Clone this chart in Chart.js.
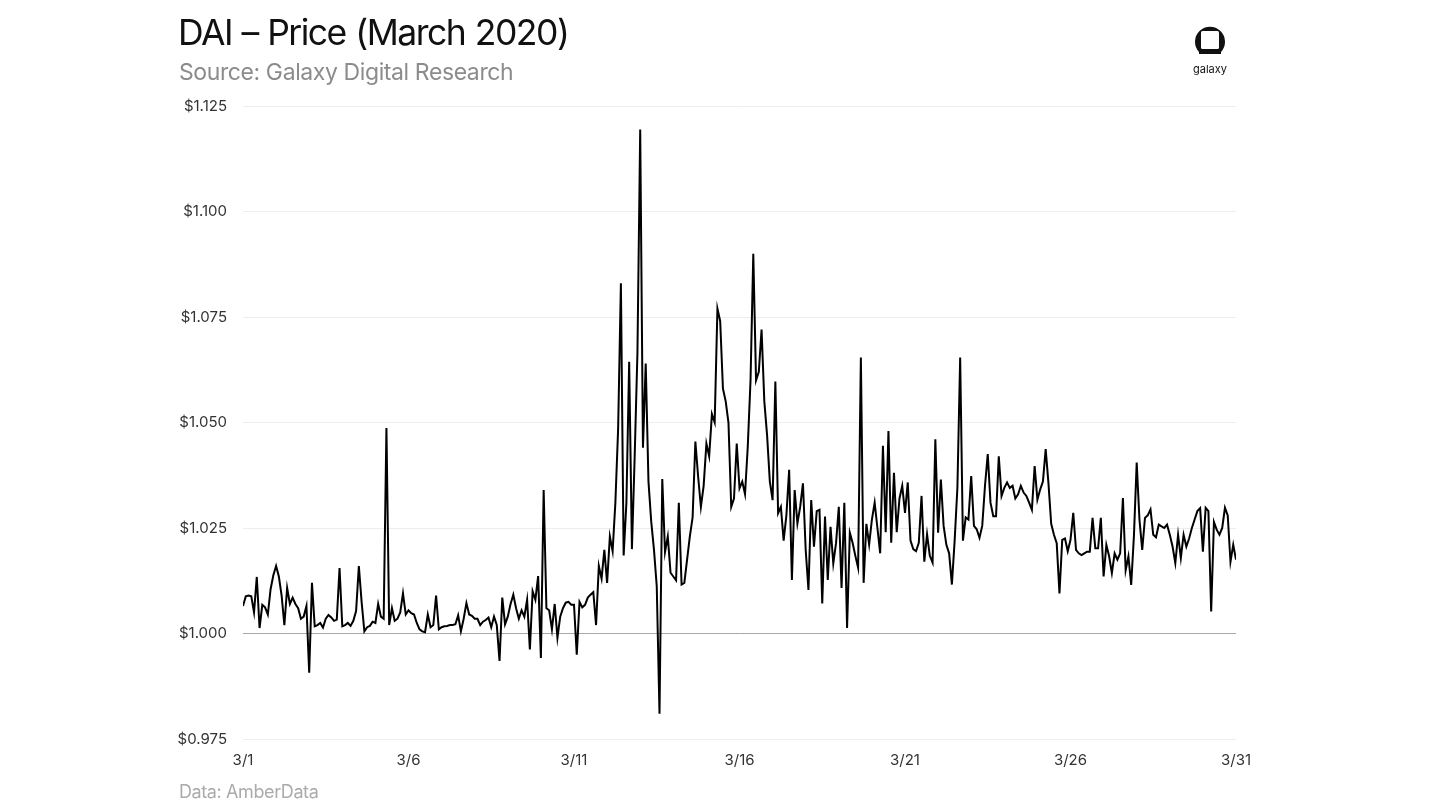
<!DOCTYPE html>
<html lang="en">
<head>
  <meta charset="UTF-8" />
  <title>DAI - Price (March 2020)</title>
  <script src="https://cdn.jsdelivr.net/npm/chart.js"></script>
  <style>
    html, body {
      margin: 0;
      padding: 0;
      background: #ffffff;
      font-family: Inter, "Noto Sans", sans-serif;
    }
    #page {
      position: relative;
      width: 1435px;
      height: 807px;
      overflow: hidden;
    }
    #wrap {
      position: absolute;
      left: 0;
      top: 0;
      width: 1435px;
      height: 807px;
    }
    .title {
      position: absolute;
      left: 178px;
      top: 11px;
      font-size: 35.5px;
      letter-spacing: -1.5px;
      word-spacing: 1px;
      color: #111;
      white-space: nowrap;
    }
    .subtitle {
      position: absolute;
      left: 179px;
      top: 58px;
      font-size: 23px;
      letter-spacing: -0.4px;
      color: #8c8c8c;
      white-space: nowrap;
    }
    .footer {
      position: absolute;
      left: 179px;
      top: 781px;
      font-size: 18px;
      letter-spacing: -0.4px;
      color: #ababab;
      white-space: nowrap;
    }
    .logo {
      position: absolute;
      left: 1185px;
      top: 26px;
      width: 50px;
      text-align: center;
    }
    .logo span {
      display: block;
      font-size: 11px;
      color: #111;
      margin-top: 1px;
    }
  </style>
</head>
<body>
<div id="page">
  <div id="wrap"><canvas id="daiPrice"></canvas></div>
  <div class="title">DAI – Price (March 2020)</div>
  <div class="subtitle">Source: Galaxy Digital Research</div>
  <div class="footer">Data: AmberData</div>
  <div class="logo">
    <svg width="30" height="31" viewBox="0 0 30 31">
      <path d="M4 28 L4 26 A15 15 0 1 1 26 26 L26 28 Z" fill="#111"/>
      <rect x="6" y="5" width="18" height="18" rx="1.5" fill="#fff"/>
    </svg>
    <span>galaxy</span>
  </div>
</div>

<script>
  // DAI price, one value every 2 hours starting 3/1 00:00 (12 per day)
  const sampleHours = 2;

  const pricesWeek1 = [
    1.0065, 1.0088, 1.009, 1.0088, 1.005, 1.0134, 1.0013, 1.0068, 1.0062, 1.0045, 1.0105, 1.0138, // 3/1
    1.016, 1.0135, 1.009, 1.002, 1.0108, 1.007, 1.0085, 1.007, 1.006, 1.0035, 1.004, 1.0065,     // 3/2
    0.9907, 1.012, 1.0017, 1.002, 1.0025, 1.0014, 1.0035, 1.0044, 1.0038, 1.003, 1.0033, 1.0155, // 3/3
    1.0017, 1.002, 1.0025, 1.0018, 1.003, 1.0053, 1.016, 1.0075, 1.0005, 1.0015, 1.0018, 1.0028, // 3/4
    1.0025, 1.007, 1.004, 1.0035, 1.0487, 1.002, 1.006, 1.003, 1.0035, 1.005, 1.0095, 1.0045,    // 3/5
    1.0055, 1.0048, 1.0045, 1.0025, 1.001, 1.0005, 1.0003, 1.0045, 1.0015, 1.002, 1.009, 1.001,  // 3/6
    1.0015, 1.0017, 1.0018, 1.002, 1.002, 1.0022, 1.0043, 1.0005, 1.0035, 1.0072, 1.0045, 1.0042 // 3/7
  ];

  const pricesWeek2 = [
    1.0035, 1.0035, 1.002, 1.0028, 1.0032, 1.0038, 1.0015, 1.004, 1.002, 0.9935, 1.0085, 1.0022, // 3/8
    1.004, 1.007, 1.0092, 1.006, 1.0035, 1.0055, 1.004, 1.008, 0.9962, 1.010, 1.008, 1.0136,     // 3/9
    0.9942, 1.034, 1.006, 1.0055, 1.001, 1.007, 0.999, 1.004, 1.006, 1.0073, 1.0075, 1.0068,     // 3/10
    1.0068, 0.995, 1.0075, 1.0062, 1.0068, 1.0085, 1.0092, 1.0098, 1.002, 1.016, 1.013, 1.0198,  // 3/11
    1.012, 1.023, 1.0195, 1.031, 1.0485, 1.083, 1.0185, 1.031, 1.0644, 1.02, 1.042, 1.0666,      // 3/12
    1.1194, 1.044, 1.064, 1.036, 1.0265, 1.0198, 1.0112, 0.981, 1.0366, 1.0193, 1.023, 1.0144,   // 3/13
    1.0135, 1.0126, 1.031, 1.0116, 1.012, 1.0175, 1.023, 1.0275, 1.0455, 1.0372, 1.03, 1.035     // 3/14
  ];

  const pricesWeek3 = [
    1.045, 1.042, 1.052, 1.05, 1.077, 1.074, 1.058, 1.055, 1.05, 1.030, 1.032, 1.045,            // 3/15
    1.0344, 1.036, 1.033, 1.0443, 1.06, 1.090, 1.06, 1.062, 1.072, 1.055, 1.047, 1.036,          // 3/16
    1.0316, 1.0597, 1.0285, 1.03, 1.022, 1.028, 1.0388, 1.0127, 1.034, 1.0261, 1.03, 1.0356,     // 3/17
    1.0198, 1.0103, 1.0316, 1.0206, 1.029, 1.0293, 1.0071, 1.0277, 1.0127, 1.0253, 1.0166, 1.0214, // 3/18
    1.030, 1.0108, 1.031, 1.0013, 1.0239, 1.0215, 1.0184, 1.0156, 1.0654, 1.012, 1.026, 1.0211,  // 3/19
    1.027, 1.031, 1.025, 1.019, 1.0445, 1.024, 1.048, 1.0215, 1.0381, 1.024, 1.032, 1.035,       // 3/20
    1.0286, 1.0358, 1.022, 1.02, 1.0195, 1.0215, 1.0326, 1.017, 1.0235, 1.0184, 1.0168, 1.046    // 3/21
  ];

  const pricesWeek4 = [
    1.0239, 1.0365, 1.0255, 1.021, 1.019, 1.0116, 1.022, 1.0346, 1.0654, 1.022, 1.0275, 1.027,   // 3/22
    1.0373, 1.0255, 1.0247, 1.0227, 1.0255, 1.035, 1.0425, 1.031, 1.0278, 1.0278, 1.042, 1.0326, // 3/23
    1.0345, 1.0358, 1.0345, 1.035, 1.032, 1.033, 1.035, 1.0334, 1.0326, 1.031, 1.0293, 1.0397,   // 3/24
    1.0317, 1.0341, 1.036, 1.0437, 1.0357, 1.026, 1.0234, 1.0214, 1.0095, 1.0222, 1.0225, 1.0195, // 3/25
    1.0222, 1.0286, 1.0198, 1.019, 1.0186, 1.019, 1.0194, 1.0194, 1.0274, 1.0202, 1.0202, 1.0274, // 3/26
    1.0135, 1.021, 1.0183, 1.0143, 1.019, 1.0175, 1.019, 1.0321, 1.015, 1.0183, 1.0115, 1.0232,  // 3/27
    1.0405, 1.027, 1.0198, 1.0274, 1.028, 1.0294, 1.0234, 1.0228, 1.0258, 1.0254, 1.025, 1.0258  // 3/28
  ];

  const pricesWeek5 = [
    1.0234, 1.0206, 1.0167, 1.0234, 1.0179, 1.0234, 1.0206, 1.0225, 1.025, 1.027, 1.029, 1.0297, // 3/29
    1.0194, 1.0298, 1.029, 1.0052, 1.0264, 1.0246, 1.0234, 1.025, 1.0298, 1.028, 1.017, 1.021,   // 3/30
    1.0175                                                                                       // 3/31 00:00
  ];

  const xTickLabels = ["3/1", "3/6", "3/11", "3/16", "3/21", "3/26", "3/31"];
  const xTickStepDays = 5;
  const yMin = 0.975;
  const yMax = 1.125;
  const yStep = 0.025;

  const prices = [].concat(pricesWeek1, pricesWeek2, pricesWeek3, pricesWeek4, pricesWeek5);
  const points = prices.map((p, i) => ({ x: i * sampleHours / 24, y: p }));

  const tickFont = { family: "Inter, 'Noto Sans', sans-serif", size: 15 };

  new Chart(document.getElementById("daiPrice"), {
    type: "line",
    data: {
      datasets: [{
        label: "DAI",
        data: points,
        borderColor: "#000000",
        borderWidth: 2,
        pointRadius: 0,
        tension: 0,
        fill: false
      }]
    },
    options: {
      responsive: true,
      maintainAspectRatio: false,
      animation: false,
      layout: { padding: { top: 106, right: 199, left: 0, bottom: 0 } },
      plugins: {
        legend: { display: false },
        tooltip: { enabled: false }
      },
      scales: {
        x: {
          type: "linear",
          min: 0,
          max: 30,
          grid: { display: false, drawTicks: false },
          border: { display: false },
          ticks: {
            stepSize: xTickStepDays,
            maxRotation: 0,
            padding: 12,
            color: "#333",
            font: tickFont,
            callback: v => xTickLabels[Math.round(v / xTickStepDays)]
          },
          afterFit: s => { s.height = 68; }
        },
        y: {
          min: yMin,
          max: yMax,
          grid: {
            drawTicks: false,
            lineWidth: 1,
            color: c => Math.abs(c.tick.value - 1) < 1e-9 ? "#a8a8a8" : "#ededed"
          },
          border: { display: false },
          ticks: {
            stepSize: yStep,
            padding: 16,
            color: "#333",
            font: tickFont,
            callback: v => "$" + v.toFixed(3)
          },
          afterFit: s => { s.width = 243; }
        }
      }
    }
  });
</script>
</body>
</html>
